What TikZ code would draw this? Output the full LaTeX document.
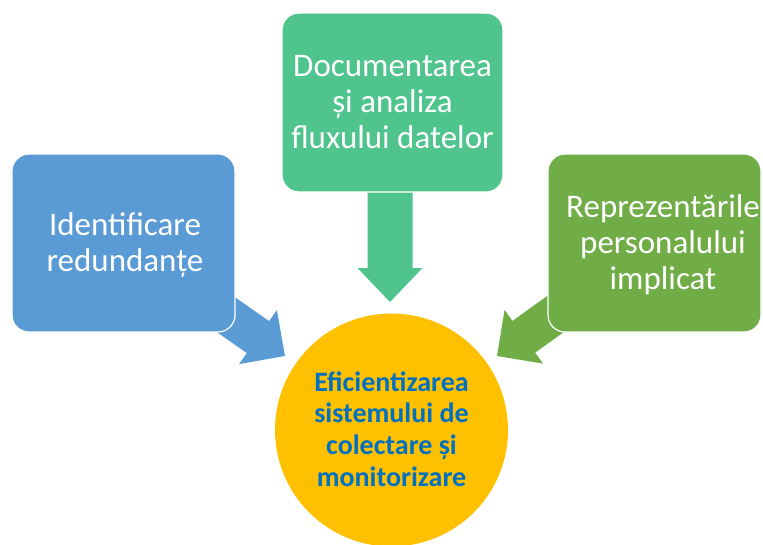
\documentclass[tikz,border=0pt]{standalone}
\usepackage{fontspec}
\setmainfont{Carlito}
\usetikzlibrary{calc,backgrounds}
\definecolor{cblue}{HTML}{5B9BD5}
\definecolor{cgreen}{HTML}{4FC48C}
\definecolor{colive}{HTML}{70AD47}
\definecolor{cgold}{HTML}{FFC000}
\definecolor{ctext}{HTML}{0070C0}
% #1 style, #2 start, #3 tip, #4 half shaft width, #5 half head width, #6 head length
\newcommand\blockarrow[6]{%
  \path (#3) coordinate (T) ($(#3)!#6!(#2)$) coordinate (H);
  \fill[#1] ($(#2)!#4!90:(T)$) -- ($(H)!#4!90:(T)$) -- ($(H)!#5!90:(T)$) -- (T)
    -- ($(H)!#5!-90:(T)$) -- ($(H)!#4!-90:(T)$) -- ($(#2)!#4!-90:(T)$) -- cycle;}
\begin{document}
\begin{tikzpicture}[x=1pt,y=-1pt,
  box/.style={rounded corners=17pt, draw=white, line width=1.2pt, inner sep=0pt},
  boxtext/.style={text=white, align=center, font=\fontsize{33}{36}\selectfont, inner sep=0pt},
  goaltext/.style={text=ctext, align=center, font=\fontsize{28}{31.7}\selectfont\bfseries, inner sep=0pt}]
\useasboundingbox (0,0) rectangle (763,544);
% boxes
\node[box, fill=cblue, minimum width=223pt, minimum height=178pt] (ident) at (123.5,243) {};
\node[boxtext] (identT) at (125,245) {Identificare\\redundanțe};
\node[box, fill=cgreen, minimum width=221pt, minimum height=179pt] (doc) at (392.5,102.5) {};
\node[boxtext] (docT) at (392.5,102) {Documentarea\\și analiza\\fluxului datelor};
\node[box, fill=colive, minimum width=213pt, minimum height=178pt] (rep) at (654.5,243) {};
\node[boxtext] (repT) at (663,245) {Reprezentările\\personalului\\implicat};
% arrow tips
\coordinate (bT) at (285,356);
\coordinate (gS) at (390,150);
\coordinate (gT) at (390,302);
\coordinate (oT) at (497,356);
\begin{scope}[on background layer]
  \blockarrow{cblue}{ident.center}{bT}{19.5pt}{33pt}{33pt}
  \blockarrow{cgreen}{gS}{gT}{22.5pt}{32.5pt}{34pt}
  \blockarrow{colive}{rep.center}{oT}{19.5pt}{33pt}{33pt}
\end{scope}
% goal circle
\node[circle, fill=cgold, minimum size=233pt, inner sep=0pt] (goal) at (391.5,430) {};
\node[goaltext] (goalT) at (391.5,429) {Eficientizarea\\sistemului de\\colectare și\\monitorizare};
\end{tikzpicture}
\end{document}
